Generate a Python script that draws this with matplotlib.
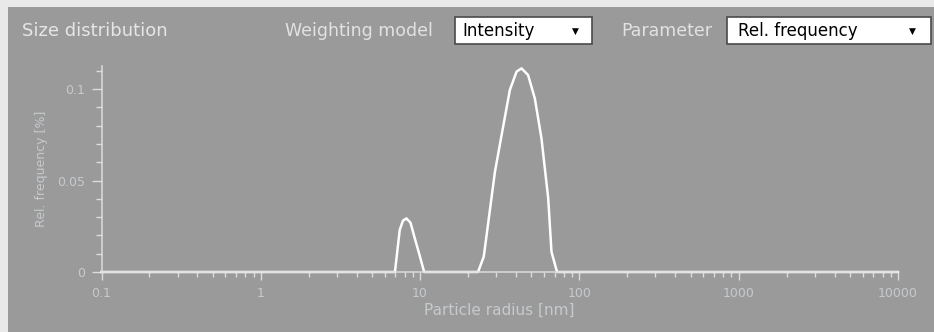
import numpy as np
import matplotlib.pyplot as plt
from matplotlib.patches import Rectangle
from matplotlib.ticker import LogLocator, MultipleLocator, FixedLocator, FixedFormatter

# particle radius [nm] and relative frequency
radius = [0.1, 6.95, 7.45, 7.8, 8.2, 8.7, 9.25, 9.9, 10.6,
          23.1, 25.1, 29.5, 33.2, 36.6, 40.3, 43.3, 47.6, 52.5, 57.8, 63.7, 66.8, 72.4, 10000]
freq = [0, 0, 0.023, 0.028, 0.0293, 0.027, 0.0186, 0.0095, 0,
        0, 0.0084, 0.0548, 0.0794, 0.0995, 0.1095, 0.1113, 0.1077, 0.0949, 0.073, 0.0403, 0.011, 0, 0]

x_ticks = [0.1, 1, 10, 100, 1000, 10000]
x_labels = ['0.1', '1', '10', '100', '1000', '10000']
y_ticks = [0, 0.05, 0.1]
y_labels = ['0', '0.05', '0.1']

W, H = 934, 332
panel = '#9a9a9a'
label_col = '#c6cacd'
axis_col = '#dcdcdc'

fig = plt.figure(figsize=(W / 100, H / 100), dpi=100)
fig.patch.set_facecolor('#e9e9e9')

def fx(px):
    return px / W

def fy(py):
    return 1 - py / H

# gray panel
fig.patches.append(Rectangle((fx(8), 0), 1 - fx(8), fy(7), transform=fig.transFigure,
                             facecolor=panel, edgecolor='none', zorder=-5))

# header
fig.text(fx(22), fy(31), 'Size distribution', color='#e6e6e6', fontsize=13,
         family='DejaVu Sans', va='center', ha='left')
fig.text(fx(285), fy(31), 'Weighting model', color='#e2e2e2', fontsize=12.5,
         family='DejaVu Sans', va='center', ha='left')
fig.text(fx(621), fy(31), 'Parameter', color='#e2e2e2', fontsize=12.5,
         family='DejaVu Sans', va='center', ha='left')

def combo(x0, x1, text, tx, ax_):
    fig.patches.append(Rectangle((fx(x0), fy(44)), fx(x1 - x0), (44 - 17) / H,
                                 transform=fig.transFigure, facecolor='white',
                                 edgecolor='#4a4a4a', linewidth=1.2, zorder=1))
    fig.text(fx(tx), fy(31), text, color='black', fontsize=12, family='DejaVu Sans',
             va='center', ha='left', zorder=2)
    fig.text(fx(ax_), fy(31), '\u25bc', color='black', fontsize=6.5,
             va='center', ha='center', zorder=2)

combo(455, 592, 'Intensity', 462, 575)
combo(727, 931, 'Rel. frequency', 738, 912)

# plot area
ax = fig.add_axes([fx(101.5), 60 / H, fx(898) - fx(101.5), (272 - 66) / H])
ax.set_zorder(3)
ax.set_facecolor('none')
ax.plot(radius, freq, color='white', linewidth=1.8, solid_joinstyle='round', clip_on=False)
ax.set_xscale('log')
ax.set_xlim(0.1, 10000)
ax.set_ylim(0, 0.1126)

ax.xaxis.set_major_locator(FixedLocator(x_ticks))
ax.xaxis.set_major_formatter(FixedFormatter(x_labels))
ax.xaxis.set_minor_locator(LogLocator(base=10, subs=np.arange(2, 10)))
ax.xaxis.set_minor_formatter(FixedFormatter([]))
ax.yaxis.set_major_locator(FixedLocator(y_ticks))
ax.yaxis.set_major_formatter(FixedFormatter(y_labels))
ax.yaxis.set_minor_locator(MultipleLocator(0.01))

for s in ['top', 'right']:
    ax.spines[s].set_visible(False)
for s in ['left', 'bottom']:
    ax.spines[s].set_color(axis_col)
    ax.spines[s].set_linewidth(1.1)

ax.tick_params(axis='x', which='major', direction='out', length=6, width=1, color=axis_col,
               labelcolor=label_col, labelsize=9, pad=5)
ax.tick_params(axis='x', which='minor', direction='out', length=3.5, width=1, color=axis_col)
ax.tick_params(axis='y', which='major', direction='out', length=7, width=1, color=axis_col,
               labelcolor=label_col, labelsize=9, pad=5)
ax.tick_params(axis='y', which='minor', direction='out', length=4.5, width=1, color=axis_col)

ax.set_xlabel('Particle radius [nm]', color=label_col, fontsize=11, labelpad=2)
ax.set_ylabel('Rel. frequency [%]', color=label_col, fontsize=9, labelpad=6)

fig.savefig('out.png', dpi=100, facecolor=fig.get_facecolor())
